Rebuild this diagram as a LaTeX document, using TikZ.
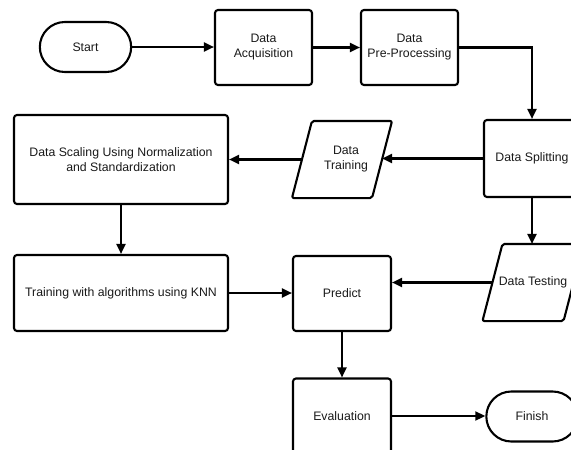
\documentclass[tikz,border=0pt]{standalone}
\usepackage{fontspec}
\setmainfont{Liberation Sans}
\usetikzlibrary{arrows.meta,shapes.misc}
\begin{document}
\begin{tikzpicture}[x=1pt,y=-1pt,
  every node/.style={font=\fontsize{12.3}{15}\selectfont, text=black!90, align=center, line width=2.1pt},
  procbox/.style={draw, rectangle, rounded corners=3pt, minimum width=#1},
  procbox/.default=97pt,
  term/.style={draw, rounded rectangle, minimum width=98pt, minimum height=50pt},
  iobox/.style={rectangle, minimum width=78pt, minimum height=75pt, inner sep=0pt},
  ioline/.style={draw, line width=2.1pt, rounded corners=2pt, line join=round},
  flow/.style={line width=2.1pt, -{Triangle[length=10pt,width=9pt]}}
]
\useasboundingbox (0,0) rectangle (571,450);
\node[term] (start) at (85.5,47) {Start};
\node[procbox, minimum height=75pt] (acq) at (263.5,47.5) {Data\\Acquisition};
\node[procbox, minimum height=75pt] (pre) at (409.5,47.5) {Data\\Pre-Processing};
\node[procbox=96pt, minimum height=77pt] (split) at (532,158.5) {Data Splitting};
\node[iobox] (train) at (342,159.5) {\hspace*{8pt}Data\\\hspace*{8pt}Training};
\draw[ioline] ([xshift=-10pt]train.south west) -- ([xshift=10pt]train.north west)
   -- ([xshift=10pt]train.north east) -- ([xshift=-10pt]train.south east) -- cycle;
\node[procbox=214pt, minimum height=89pt] (scale) at (121,159.5) {Data Scaling Using Normalization\\and Standardization};
\node[procbox=214pt, minimum height=76pt] (knn) at (121,293) {Training with algorithms using KNN};
\node[procbox=98pt, minimum height=75pt] (predict) at (342,293.5) {Predict};
\node[iobox, minimum width=79pt] (test) at (533,282.5) {Data Testing};
\draw[ioline] ([xshift=-10pt]test.south west) -- ([xshift=10pt]test.north west)
   -- ([xshift=10pt]test.north east) -- ([xshift=-10pt]test.south east) -- cycle;
\node[procbox=98pt, minimum height=75pt] (eval) at (342,416) {Evaluation};
\node[term] (finish) at (532,416.5) {Finish};

\draw[flow] (start.east) -- (start.east -| acq.west);
\draw[flow] (acq.east) -- (pre.west);
\draw[flow] (pre.east) -| (split.north);
\draw[flow] (split.west) -- (split.west -| train.east);
\draw[flow] (train.west) -- (train.west -| scale.east);
\draw[flow] (scale.south) -- (knn.north);
\draw[flow] (knn.east) -- (knn.east -| predict.west);
\draw[flow] (split.south) -- (split.south |- test.north);
\draw[flow] (test.west) -- (test.west -| predict.east);
\draw[flow] (predict.south) -- (eval.north);
\draw[flow] (eval.east) -- (eval.east -| finish.west);
\end{tikzpicture}
\end{document}
